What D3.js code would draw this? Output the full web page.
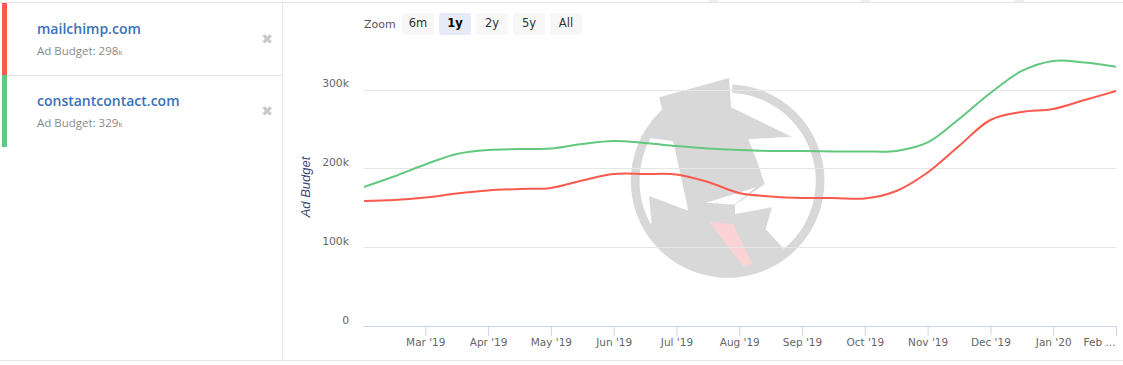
<!DOCTYPE html>
<html>
<head>
<meta charset="utf-8">
<script src="https://cdnjs.cloudflare.com/ajax/libs/d3/7.8.5/d3.min.js"></script>
<style>
  html, body { margin: 0; padding: 0; background: #fff; overflow: hidden; }
  svg { display: block; }
</style>
</head>
<body>
<svg id="chart" width="1123" height="365"></svg>
<script>
// tick labels, one per month (first month has no label in the picture)
const months = ["", "Mar '19", "Apr '19", "May '19", "Jun '19", "Jul '19", "Aug '19", "Sep '19", "Oct '19", "Nov '19", "Dec '19", "Jan '20", "Feb ..."];
// values in thousands, every half month
const mailchimp = [158.6, 159.8, 163, 168.1, 171.9, 173.8, 175.1, 184.6, 192.8, 192.8, 192.2, 182.7, 168.7, 164.3, 162.4, 162.4, 161.7, 171.2, 194.7, 228.3, 261.3, 271.5, 275.3, 286.7, 298];
const constantcontact = [175.7, 189.6, 204.9, 218.2, 223.3, 224.5, 225.2, 230.9, 234.7, 232.1, 228.3, 225.2, 223.3, 222, 222, 221.4, 221.4, 222, 232.8, 262.6, 295.6, 323.5, 336.2, 334.3, 329];
const yTicks = [0, 100, 200, 300];
const sites = ["mailchimp.com", "constantcontact.com"];
const latest = ["298", "329"];
const colors = ["#fa5a4d", "#62c77f"];
const zoomLabels = ["6m", "1y", "2y", "5y", "All"];

const svg = d3.select("#chart");
const labelFont = "'DejaVu Sans', sans-serif";

// page frame
svg.append("line").attr("x1", 0).attr("x2", 1123).attr("y1", 2.5).attr("y2", 2.5).attr("stroke", "#e6e6e6");
svg.append("line").attr("x1", 0).attr("x2", 1123).attr("y1", 360.5).attr("y2", 360.5).attr("stroke", "#e6e6e6");
svg.append("line").attr("x1", 282.5).attr("x2", 282.5).attr("y1", 3).attr("y2", 360).attr("stroke", "#e6e6e6");

// little bits of the element above that poke in at the top edge
[707, 859, 1013].forEach(left => {
  svg.append("path").attr("fill", "#eeeeee").attr("d", `M${left},2L${left + 3},0H${left + 11}V2Z`);
});

// sidebar rows
sites.forEach((site, i) => {
  const row = svg.append("g").attr("transform", `translate(0,${3 + i * 72})`);
  row.append("rect").attr("x", 2).attr("y", 0).attr("width", 5).attr("height", 72).attr("fill", colors[i]);
  if (i === 0) row.append("line").attr("x1", 7).attr("x2", 282).attr("y1", 72.5).attr("y2", 72.5).attr("stroke", "#e6e6e6");
  row.append("text").attr("x", 37).attr("y", 31)
    .attr("font-family", "'Open Sans', sans-serif").attr("font-size", 14).attr("font-weight", 600)
    .attr("fill", "#3a70b9").text(site);
  const sub = row.append("text").attr("x", 37).attr("y", 52)
    .attr("font-family", "'Open Sans', sans-serif").attr("font-size", 11.5).attr("fill", "#8a8a8a");
  sub.append("tspan").text("Ad Budget: " + latest[i]);
  sub.append("tspan").attr("font-size", 8).text("k");
  row.append("text").attr("x", 267).attr("y", 41).attr("text-anchor", "middle")
    .attr("font-family", labelFont).attr("font-size", 14).attr("fill", "#c8c8c8").text("✖");
});

// scales
const x = d3.scaleLinear().domain([0, months.length - 1]).range([362.5, 1116]);
const y = d3.scaleLinear().domain([0, 300]).range([326, 89.5]);

// watermark (zoomed crop units)
const wm = svg.append("g").attr("transform", "translate(620,70) scale(0.3333)");
wm.append("circle").attr("cx", 323).attr("cy", 333).attr("r", 277.5)
  .attr("fill", "none").attr("stroke", "#d8d8d8").attr("stroke-width", 26);
wm.append("path").attr("fill", "#fff").attr("d", "M327,20L337,20L337,75L327,75Z");
wm.append("path").attr("fill", "#d8d8d8")
  .attr("d", "M87,378L205,422L160,215L155,213L60,200L132,147L118,82L327,24L333,112L515,200L385,208L410,270L434,342L345,405L345,432L456,412L437,478L490,535L500,546A277,277 0 0 1 81,467L95,460Z");
wm.append("path").attr("fill", "#fff").attr("d", "M258,398L408,352L345,403L330,403Z");
wm.append("path").attr("fill", "#fbd3d5").attr("d", "M268,456L340,463L398,583L370,589Z");

// grid
svg.append("g").selectAll("line")
  .data(yTicks.filter(d => d > 0))
  .enter().append("line")
  .attr("x1", 364).attr("x2", 1116)
  .attr("y1", d => Math.round(y(d)) + 0.5).attr("y2", d => Math.round(y(d)) + 0.5)
  .attr("stroke", "#e6e6e6");

// x axis
const xAxis = svg.append("g")
  .attr("transform", "translate(0,326.5)")
  .call(d3.axisBottom(x)
    .tickValues(d3.range(1, months.length))
    .tickFormat(i => months[i])
    .tickSize(9).tickPadding(3));
xAxis.select(".domain").attr("d", "M364,0H1117").attr("stroke", "#c8d6ea");
xAxis.selectAll(".tick line").attr("stroke", "#c8d6ea");
xAxis.selectAll(".tick text")
  .attr("font-family", labelFont).attr("font-size", 10.5).attr("fill", "#666")
  .attr("dx", d => d === months.length - 1 ? -17 : 0);

// y axis
const yAxis = svg.append("g")
  .attr("transform", "translate(349,0)")
  .call(d3.axisLeft(y).tickValues(yTicks).tickSize(0).tickPadding(0).tickFormat(d => d === 0 ? "0" : d + "k"));
yAxis.select(".domain").remove();
yAxis.selectAll(".tick text")
  .attr("font-family", labelFont).attr("font-size", 10.8).attr("fill", "#666")
  .attr("dy", -3);

// y title
svg.append("text")
  .attr("transform", "translate(310,187) rotate(-90)")
  .attr("text-anchor", "middle")
  .attr("font-family", "'Liberation Sans', sans-serif").attr("font-size", 13).attr("font-style", "italic")
  .attr("fill", "#3d4a6b")
  .text("Ad Budget");

// lines
svg.append("clipPath").attr("id", "plot").append("rect")
  .attr("x", 364).attr("y", 0).attr("width", 753).attr("height", 326);
const line = d3.line()
  .x((d, i) => x(i / 2))
  .y(d => y(d))
  .curve(d3.curveCatmullRom.alpha(0.5));
[mailchimp, constantcontact].forEach((series, i) => {
  svg.append("path").datum(series)
    .attr("clip-path", "url(#plot)")
    .attr("fill", "none").attr("stroke", colors[i]).attr("stroke-width", 2)
    .attr("d", line);
});

// range selector
svg.append("text").attr("x", 364).attr("y", 28)
  .attr("font-family", labelFont).attr("font-size", 11).attr("fill", "#555").text("Zoom");
zoomLabels.forEach((lab, i) => {
  const b = svg.append("g").attr("transform", `translate(${402 + i * 37},13)`);
  b.append("rect").attr("width", 32).attr("height", 22).attr("rx", 2)
    .attr("fill", lab === "1y" ? "#e6ebf5" : "#f7f7f7");
  b.append("text").attr("x", 16).attr("y", 14).attr("text-anchor", "middle")
    .attr("font-family", labelFont).attr("font-size", 11.5)
    .attr("font-weight", lab === "1y" ? "bold" : "normal")
    .attr("fill", lab === "1y" ? "#000" : "#333").text(lab);
});
</script>
</body>
</html>
